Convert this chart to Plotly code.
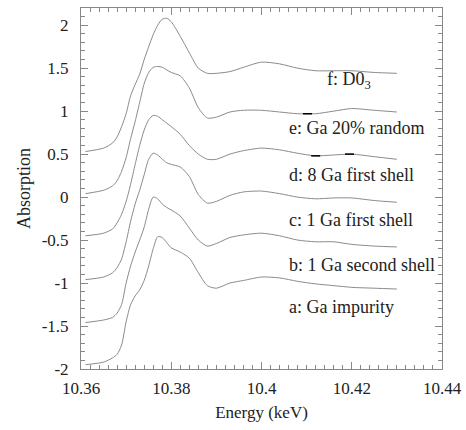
import plotly.graph_objects as go

energy = [10.361, 10.365, 10.367, 10.368, 10.369, 10.370, 10.371, 10.372, 10.373, 10.374,
          10.375, 10.376, 10.377, 10.378, 10.379, 10.380, 10.382, 10.384, 10.386, 10.388,
          10.390, 10.393, 10.396, 10.400, 10.404, 10.408, 10.412, 10.416, 10.420, 10.425, 10.430]

curve_f = [0.53, 0.57, 0.63, 0.70, 0.82, 0.97, 1.18, 1.31, 1.43, 1.60,
           1.75, 1.89, 2.00, 2.07, 2.08, 2.04, 1.87, 1.68, 1.50, 1.44,
           1.44, 1.46, 1.51, 1.57, 1.55, 1.50, 1.47, 1.47, 1.47, 1.45, 1.44]
curve_e = [0.04, 0.08, 0.13, 0.19, 0.30, 0.46, 0.68, 0.88, 1.10, 1.32,
           1.45, 1.51, 1.52, 1.51, 1.48, 1.45, 1.41, 1.27, 1.04, 0.92,
           0.93, 0.99, 1.01, 1.01, 0.99, 0.97, 0.97, 1.00, 1.03, 1.01, 0.99]
curve_d = [-0.45, -0.42, -0.37, -0.30, -0.20, -0.05, 0.15, 0.38, 0.60, 0.78,
           0.90, 0.95, 0.94, 0.90, 0.86, 0.82, 0.73, 0.60, 0.50, 0.44,
           0.44, 0.50, 0.54, 0.57, 0.55, 0.51, 0.48, 0.49, 0.50, 0.47, 0.44]
curve_c = [-0.96, -0.93, -0.88, -0.82, -0.72, -0.52, -0.28, -0.08, 0.08, 0.26,
           0.44, 0.51, 0.49, 0.44, 0.40, 0.38, 0.35, 0.24, 0.03, -0.07,
           -0.05, 0.02, 0.06, 0.07, 0.04, 0.00, -0.02, -0.01, -0.01, -0.04, -0.06]
curve_b = [-1.46, -1.43, -1.40, -1.35, -1.25, -1.00, -0.80, -0.64, -0.50, -0.35,
           -0.14, 0.00, -0.02, -0.08, -0.12, -0.15, -0.22, -0.36, -0.50, -0.57,
           -0.54, -0.47, -0.44, -0.42, -0.45, -0.50, -0.52, -0.52, -0.55, -0.57, -0.58]
curve_a = [-1.95, -1.92, -1.87, -1.83, -1.72, -1.45, -1.25, -1.15, -1.08, -0.97,
           -0.80, -0.60, -0.46, -0.47, -0.53, -0.59, -0.64, -0.71, -0.88, -1.03,
           -1.06, -1.00, -0.97, -0.93, -0.94, -0.98, -1.01, -1.03, -1.05, -1.06, -1.07]

curves = [curve_a, curve_b, curve_c, curve_d, curve_e, curve_f]

labels = ["a: Ga impurity", "b: 1 Ga second shell", "c: 1 Ga first shell",
          "d: 8 Ga first shell", "e: Ga 20% random", "f: D0<sub>3</sub>"]
label_x = [10.4057, 10.4057, 10.4057, 10.4057, 10.4057, 10.4141]
label_y = [-1.28, -0.79, -0.27, 0.26, 0.80, 1.36]

# short dark marks on curves e and d
mark_x = [[10.4092, 10.4112], [10.4110, 10.4130], [10.4185, 10.4205]]
mark_y = [[0.97, 0.97], [0.48, 0.48], [0.50, 0.50]]

x_tickvals = [10.36, 10.38, 10.40, 10.42, 10.44]
x_ticktext = ["10.36", "10.38", "10.4", "10.42", "10.44"]
y_tickvals = [-2, -1.5, -1, -0.5, 0, 0.5, 1, 1.5, 2]
y_ticktext = ["-2", "-1.5", "-1", "-0.5", "0", "0.5", "1", "1.5", "2"]

FONT = "Times New Roman, Liberation Serif, DejaVu Serif, serif"

fig = go.Figure()
for cy in curves:
    fig.add_trace(go.Scatter(x=energy, y=cy, mode="lines",
                             line=dict(color="#8a8a8a", width=1, shape="spline", smoothing=0.7),
                             showlegend=False, hoverinfo="skip"))
for mx, my in zip(mark_x, mark_y):
    fig.add_trace(go.Scatter(x=mx, y=my, mode="lines",
                             line=dict(color="black", width=1.5),
                             showlegend=False, hoverinfo="skip"))

for t, lx, ly in zip(labels, label_x, label_y):
    fig.add_annotation(x=lx, y=ly, text=t, showarrow=False, xanchor="left", yanchor="middle",
                       font=dict(family=FONT, size=18, color="#222"))

axis_common = dict(showgrid=False, zeroline=False, showline=True, linecolor="#888",
                   linewidth=1, mirror="ticks", ticks="inside", ticklen=7, tickcolor="#888",
                   tickfont=dict(family=FONT, size=17, color="#222"))

fig.update_xaxes(range=[10.36, 10.44], tickvals=x_tickvals, ticktext=x_ticktext,
                 minor=dict(dtick=0.002, tick0=10.36, ticks="inside", ticklen=4, tickcolor="#888"),
                 ticklabelstandoff=4,
                 title=dict(text="Energy (keV)", standoff=8, font=dict(family=FONT, size=17, color="#222")),
                 **axis_common)
fig.update_yaxes(range=[-2, 2.2], tickvals=y_tickvals, ticktext=y_ticktext,
                 minor=dict(dtick=0.1, tick0=-2, ticks="inside", ticklen=4, tickcolor="#888"),
                 ticklabelstandoff=8,
                 title=dict(text="Absorption", standoff=6, font=dict(family=FONT, size=18, color="#222")),
                 **axis_common)

fig.update_layout(width=466, height=430, margin=dict(l=81, r=24, t=8, b=61, autoexpand=False),
                  paper_bgcolor="white", plot_bgcolor="white",
                  font=dict(family=FONT, color="#222"))

fig.write_html("out.html")
